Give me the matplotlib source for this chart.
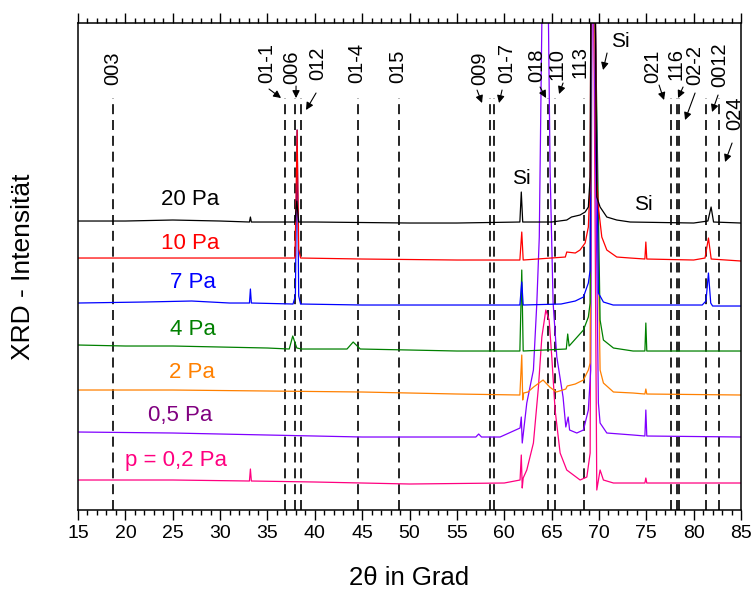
import matplotlib
matplotlib.use('Agg')
import matplotlib.pyplot as plt
from matplotlib.ticker import MultipleLocator

plt.rcParams['font.family'] = ['Liberation Sans', 'DejaVu Sans']

# XRD scans, 2theta in degree and intensity above each trace's offset
tt_20 = [15, 20, 25, 30, 33.1, 33.2, 33.3, 35, 37.9, 38.1, 38.3, 40, 50, 55, 61.65, 61.8, 61.95, 65, 66.6, 67.1,
         68.0, 68.54, 68.88, 69.07, 69.2, 69.35, 69.5, 69.77, 70.12, 70.83, 71.88, 73.3, 80, 81.5, 81.84, 82.1, 85]
i_20 = [2, 2, 3, 2, 1, 6, 1, 1, 1, 22, 1, 1, 0, 0, 1, 31, 1, 1, 3, 6,
        8, 11, 16, 46, 350, 600, 350, 26, 16, 6, 3, 1, 0, 2, 16, 1, 0]

tt_10 = [15, 25, 33, 37.9, 38.0, 38.13, 38.3, 38.5, 45, 55, 61.65, 61.85, 62.0, 66.45, 66.6, 67.5, 68.0, 68.54,
         68.88, 69.07, 69.2, 69.35, 69.5, 69.77, 69.94, 70.3, 70.83, 71.88, 73.3, 74.85, 74.95, 75.05, 80, 81.2,
         81.56, 81.85, 85]
i_10 = [3, 3, 3, 3, 50, 131, 12, 3, 2, 1, 1, 29, 1, 4, 9, 8, 11, 18,
        34, 81, 400, 600, 400, 81, 54, 24, 11, 4, 3, 2, 19, 2, 1, 3,
        23, 2, 0]

tt_7 = [15, 22, 27, 31, 33.1, 33.2, 33.3, 37.7, 37.95, 38.13, 38.3, 38.5, 45, 55, 61.65, 61.85, 62.0, 66, 67.5,
        68.36, 68.88, 69.07, 69.2, 69.35, 69.5, 69.94, 70.47, 71.5, 75, 80.9, 81.3, 81.56, 81.8, 82, 85]
i_7 = [3, 4, 5, 3, 3, 17, 3, 2, 10, 176, 10, 2, 1, 1, 1, 24, 1, 2, 5,
       9, 23, 36, 400, 600, 400, 13, 4, 1, 1, 1, 5, 33, 3, 0, 0]

tt_4 = [15, 20, 25, 30, 35, 37.3, 37.67, 38.1, 38.6, 43.4, 44.05, 44.8, 50, 55, 61.65, 61.85, 62.0, 66.55, 66.7,
        66.85, 68.36, 68.88, 69.07, 69.2, 69.35, 69.5, 70.12, 70.47, 71.53, 73.6, 74.85, 74.95, 75.05, 85]
i_4 = [6, 5, 5, 4, 3, 2, 15, 3, 2, 2, 9, 2, 1, 0, 0, 81, 0, 2, 17,
       5, 21, 34, 48, 400, 600, 400, 31, 11, 3, 0, 0, 28, 0, 0]

tt_2 = [15, 25, 35, 45, 55, 61.65, 61.85, 61.95, 62.05, 62.5, 63.1, 64.1, 64.8, 65.5, 66.5, 66.65, 67.5, 68.36,
        68.88, 69.07, 69.2, 69.35, 69.5, 70.12, 70.47, 71.53, 73.6, 74.85, 74.95, 75.05, 85]
i_2 = [5, 5, 4, 3, 1, 0, 40, -5, 2, 3, 8, 15, 8, 3, 6, 9, 11, 15,
       25, 32, 400, 600, 400, 25, 12, 3, 2, 1, 6, 1, 0]

tt_05 = [15, 25, 35, 45, 57.0, 57.3, 57.6, 59.56, 61.67, 61.8, 61.9, 62.38, 63.08, 63.44, 63.7, 63.97, 64.3,
         64.67, 64.84, 65.16, 65.55, 66.21, 66.5, 66.75, 66.9, 67.66, 68.36, 68.88, 69.13, 69.25, 69.35, 69.5,
         69.94, 70.12, 70.83, 73.6, 74.85, 74.95, 75.05, 85]
i_05 = [5, 4, 2, 0, 0, 3, 0, 0, 9, 20, -6, 34, 67, 134, 200, 414, 560,
        414, 267, 134, 80, 40, 10, 20, 7, 4, 7, 27, 67, 400, 600, 400,
        34, 14, 4, 2, 1, 27, 1, 0]

tt_02 = [15, 25, 33.1, 33.2, 33.3, 40, 50, 60, 61.67, 61.8, 61.9, 62.0, 62.38, 63.08, 63.61, 63.97, 64.39, 64.74,
         65.02, 65.37, 65.9, 66.6, 68.01, 68.72, 69.07, 69.2, 69.35, 69.5, 69.77, 70.12, 70.47, 71.53, 74.85,
         74.95, 75.05, 85]
i_02 = [3, 3, 2, 14, 2, 1, -1, 0, 3, 28, -5, 5, 13, 40, 96, 146, 173, 163,
        126, 73, 30, 13, 3, 6, 30, 400, 600, 400, -7, 13, 3, 0, 0,
        5, 0, 0]

series_tt = [tt_20, tt_10, tt_7, tt_4, tt_2, tt_05, tt_02]
series_i = [i_20, i_10, i_7, i_4, i_2, i_05, i_02]
series_labels = ['20 Pa', '10 Pa', '7 Pa', '4 Pa', '2 Pa', '0,5 Pa', 'p = 0,2 Pa']
offsets = [287, 249, 204, 159, 115, 73, 27]
line_colors = ['black', '#ff0000', '#0000ff', '#008000', '#ff8000', '#8000ff', '#ff0080']
label_colors = ['black', '#ff0000', '#0000ff', '#008000', '#ff8000', '#800080', '#ff0080']

# reflexes (hkl) of the reference pattern
ref_hkl = ['003', '01-1', '006', '012', '01-4', '015', '009', '01-7', '018', '110', '113',
           '021', '116', '02-2', '0012', '024']
ref_pos = [18.7, 36.9, 37.95, 38.55, 44.6, 48.9, 58.5, 58.9, 64.6, 65.4, 68.4,
           77.6, 78.2, 78.5, 81.3, 82.7]


def px2data(x, y):
    # pixel position in the 756x592 picture -> data coordinates
    return 15 + (x - 78) / 9.471, 510 - y


fig = plt.figure(figsize=(7.56, 5.92), dpi=100)
ax = fig.add_axes([0.1032, 0.1385, 0.877, 0.8226])

ax.vlines(ref_pos, 0, 412, colors='k', linestyles=(0, (6, 3.5)), lw=1.2, zorder=1)

# bottom trace first, so the upper scans lie on top
for tt, ii, off, c in reversed(list(zip(series_tt, series_i, offsets, line_colors))):
    ax.plot(tt, [v + off for v in ii], color=c, lw=0.9, zorder=2)

# hkl labels: text centre x, text bottom y, arrow start, arrow end (pixels)
hkl_layout = [
    (113, 85, None, None),
    (267, 83, (269, 89), (281, 98)),
    (292, 84, (296, 86), (296, 98)),
    (318, 80, (316, 93), (306, 110)),
    (357, 83, None, None),
    (398, 83, None, None),
    (480, 85, (477, 90), (482, 103)),
    (507, 83, (502, 90), (499, 103)),
    (537, 82, (540, 87), (546, 98)),
    (557, 80, (563, 83), (559, 94)),
    (580, 78, None, None),
    (653, 83, (659, 85), (664, 100)),
    (676, 80, (683, 87), (678, 98)),
    (695, 85, (695, 93), (685, 120)),
    (720, 87, (718, 95), (712, 112)),
    (735, 130, (732, 143), (725, 162)),
]
arrow_kw = dict(arrowstyle='-|>', color='k', lw=0.8, mutation_scale=11, shrinkA=0, shrinkB=0)
for hkl, (tx, ty, a0, a1) in zip(ref_hkl, hkl_layout):
    ax.text(*px2data(tx, ty), hkl, rotation=90, ha='center', va='bottom', fontsize=14.5)
    if a0 is not None:
        ax.annotate('', xy=px2data(*a1), xytext=px2data(*a0), arrowprops=arrow_kw)

ax.text(*px2data(620, 41), 'Si', ha='center', va='center', fontsize=15)
ax.annotate('', xy=px2data(603, 70), xytext=px2data(607, 53), arrowprops=arrow_kw)
ax.text(*px2data(521, 178), 'Si', ha='center', va='center', fontsize=15)
ax.text(*px2data(643, 204), 'Si', ha='center', va='center', fontsize=15)

label_px = [(190, 199), (190, 243), (193, 282), (193, 329), (192, 372), (180, 415), (176, 460)]
for lab, (lx, ly), c in zip(series_labels, label_px, label_colors):
    ax.text(*px2data(lx, ly), lab, color=c, ha='center', va='center', fontsize=16)

ax.set_xlim(15, 85)
ax.set_ylim(0, 487)
ax.xaxis.set_major_locator(MultipleLocator(5))
ax.xaxis.set_minor_locator(MultipleLocator(1))
ax.tick_params(axis='x', which='both', direction='out', top=True, labeltop=False, labelsize=14, pad=4, width=1)
ax.tick_params(axis='x', which='major', length=7)
ax.tick_params(axis='x', which='minor', length=3.5)
ax.set_yticks([])
for sp in ax.spines.values():
    sp.set_linewidth(1.1)

ax.set_xlabel('2θ in Grad', fontsize=18.5)
ax.set_ylabel('XRD - Intensität', fontsize=19)
ax.xaxis.set_label_coords(0.5, -0.115)
ax.yaxis.set_label_coords(-0.065, 0.5)

fig.savefig('out.png', dpi=100)
